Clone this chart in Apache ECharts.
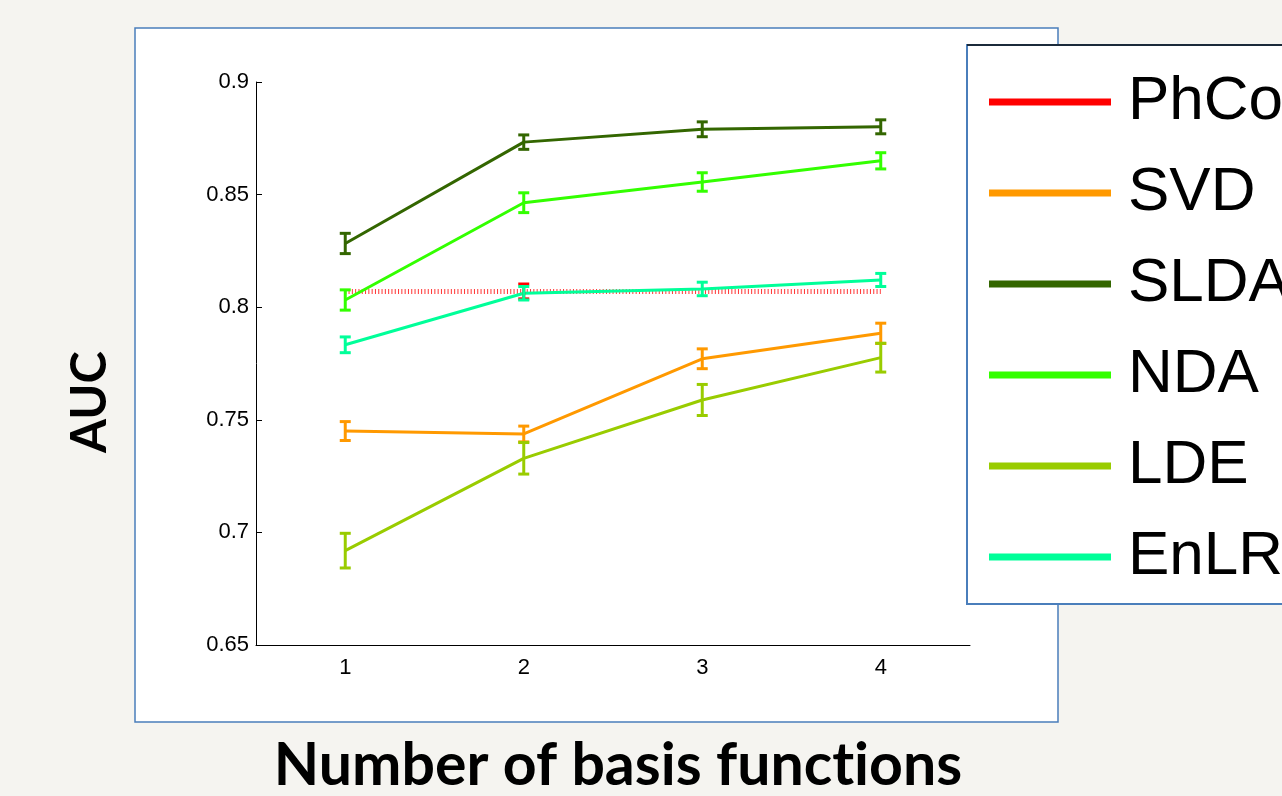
<!DOCTYPE html>
<html><head><meta charset="utf-8">
<script src="https://cdn.jsdelivr.net/npm/echarts@6/dist/echarts.min.js"></script>
<style>html,body{margin:0;padding:0;background:#f5f4f0;}#c{width:1282px;height:796px;}</style>
</head><body><div id="c"></div>
<script>
const categories = ['1', '2', '3', '4'];
const yTickLabels = ['0.65', '0.7', '0.75', '0.8', '0.85', '0.9'];
const seriesNames = ['PhCo', 'SVD', 'SLDA', 'NDA', 'LDE', 'EnLR'];
const phco = [0.807, 0.807, 0.807, 0.807];
const phcoErr = [null, 0.0033, null, null];
const svd = [0.745, 0.7437, 0.7771, 0.7884];
const svdErr = [0.0042, 0.0035, 0.0044, 0.0045];
const slda = [0.8283, 0.8733, 0.879, 0.8801];
const sldaErr = [0.0045, 0.0032, 0.0033, 0.0031];
const nda = [0.8032, 0.8464, 0.8556, 0.865];
const ndaErr = [0.0045, 0.0044, 0.0041, 0.0036];
const lde = [0.6919, 0.7329, 0.7588, 0.7776];
const ldeErr = [0.0077, 0.007, 0.0069, 0.0064];
const enlr = [0.7833, 0.8062, 0.8081, 0.8121];
const enlrErr = [0.0035, 0.003, 0.003, 0.0029];
const colors = ['#ff0000', '#ff9900', '#336600', '#33ff00', '#99cc00', '#00ff99'];

const values = [phco, svd, slda, nda, lde, enlr];
const errs = [phcoErr, svdErr, sldaErr, ndaErr, ldeErr, enlrErr];

const chart = echarts.init(document.getElementById('c'));
const series = [];
seriesNames.forEach((name, i) => {
  series.push({
    name: name, type: 'line', data: values[i], showSymbol: false, symbol: 'none',
    color: colors[i], z: 3,
    lineStyle: i === 0
      ? { color: colors[i], width: 5, type: [1, 2.3], opacity: 0.8 }
      : { color: colors[i], width: 3, type: 'solid' },
    animation: false
  });
  const errData = [];
  values[i].forEach((v, j) => { if (errs[i][j] != null) errData.push([j, v - errs[i][j], v + errs[i][j]]); });
  series.push({
    name: name, type: 'custom', data: errData, z: 4, animation: false,
    renderItem: function (params, api) {
      const lo = api.coord([api.value(0), api.value(1)]);
      const hi = api.coord([api.value(0), api.value(2)]);
      const hw = 5.5;
      const st = { stroke: colors[i], lineWidth: 3 };
      return { type: 'group', children: [
        { type: 'line', shape: { x1: lo[0], y1: lo[1], x2: hi[0], y2: hi[1] }, style: st },
        { type: 'line', shape: { x1: lo[0] - hw, y1: lo[1], x2: lo[0] + hw, y2: lo[1] }, style: st },
        { type: 'line', shape: { x1: hi[0] - hw, y1: hi[1], x2: hi[0] + hw, y2: hi[1] }, style: st }
      ]};
    }
  });
});

const tickFont = '"Liberation Sans", Arial, sans-serif';
const bigFont = 'Lato, "Open Sans", sans-serif';

chart.setOption({
  backgroundColor: '#f5f4f0',
  animation: false,
  graphic: [
    { type: 'rect', z: -10, shape: { x: 135, y: 28, width: 923, height: 694 }, style: { fill: '#ffffff', stroke: '#4a7ebb', lineWidth: 1.5 } },
    { type: 'rect', z: -5, shape: { x: 967, y: 45, width: 330, height: 559 }, style: { fill: '#ffffff', stroke: '#4a7ebb', lineWidth: 2 } },
    { type: 'line', z: -4, shape: { x1: 967, y1: 45, x2: 1290, y2: 45 }, style: { stroke: '#1b2a3a', lineWidth: 2 } },
    { type: 'text', z: 10, x: 90, y: 402, rotation: Math.PI / 2,
      style: { text: 'AUC', font: 'bold 49px ' + bigFont, fill: '#000', align: 'center', verticalAlign: 'middle' } },
    { type: 'text', z: 10, x: 618, y: 766,
      style: { text: '{a|Number of basis funct}{a|ions}', fill: '#000', align: 'center', verticalAlign: 'middle',
        rich: { a: { fontFamily: bigFont, fontWeight: 'bold', fontSize: 59, fill: '#000', color: '#000' } } } }
  ],
  grid: { left: 256, right: 312, top: 82, bottom: 151, containLabel: false },
  xAxis: {
    type: 'category', data: categories, boundaryGap: true,
    axisLine: { lineStyle: { color: '#000', width: 1 } },
    axisTick: { inside: true, alignWithLabel: true, length: 6, lineStyle: { color: '#000' } },
    axisLabel: { color: '#000', fontSize: 22, fontFamily: tickFont, margin: 12 },
    splitLine: { show: false }
  },
  yAxis: {
    type: 'value', min: 0.65, max: 0.9, interval: 0.05,
    axisLine: { show: true, lineStyle: { color: '#000', width: 1 } },
    axisTick: { show: true, inside: true, length: 6, lineStyle: { color: '#000' } },
    axisLabel: { color: '#000', fontSize: 22, fontFamily: tickFont, margin: 7,
      formatter: function (v) { const k = Math.round((v - 0.65) / 0.05); return yTickLabels[k] || ''; } },
    splitLine: { show: false }
  },
  legend: {
    orient: 'vertical', left: 984, top: 62, itemWidth: 122, itemHeight: 7, itemGap: 21,
    icon: 'rect', data: seriesNames,
    textStyle: { fontSize: 62, lineHeight: 70, color: '#000', fontFamily: '"Liberation Sans", Arial, sans-serif', padding: [0, 0, 0, 12] }
  },
  series: series
});
</script></body></html>
